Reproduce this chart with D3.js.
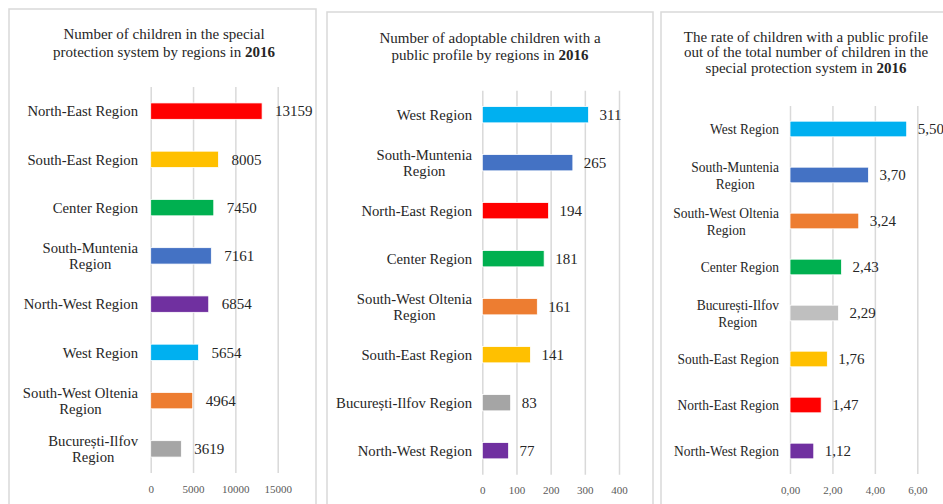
<!DOCTYPE html>
<html>
<head>
<meta charset="utf-8">
<script src="https://cdn.jsdelivr.net/npm/d3@7"></script>
<style>
  html, body { margin: 0; padding: 0; background: #fff; }
  svg { display: block; }
  text { font-family: "Liberation Serif", "DejaVu Serif", serif; }
</style>
</head>
<body>
<svg id="chart" width="943" height="504"></svg>
<script>
// ---------- DATA ----------
const p1Categories = ["North-East Region", "South-East Region", "Center Region", "South-Muntenia\nRegion", "North-West Region", "West Region", "South-West Oltenia\nRegion", "București-Ilfov\nRegion"];
const p1Values = [13159, 8005, 7450, 7161, 6854, 5654, 4964, 3619];
const p1Ticks = [0, 5000, 10000, 15000];
const p1Title = ["Number of children in the special", "protection system by regions in |2016"];

const p2Categories = ["West Region", "South-Muntenia\nRegion", "North-East Region", "Center Region", "South-West Oltenia\nRegion", "South-East Region", "București-Ilfov Region", "North-West Region"];
const p2Values = [311, 265, 194, 181, 161, 141, 83, 77];
const p2Ticks = [0, 100, 200, 300, 400];
const p2Title = ["Number of adoptable children with a", "public profile by regions in |2016"];

const p3Categories = ["West Region", "South-Muntenia\nRegion", "South-West Oltenia\nRegion", "Center Region", "București-Ilfov\nRegion", "South-East Region", "North-East Region", "North-West Region"];
const p3Values = [5.50, 3.70, 3.24, 2.43, 2.29, 1.76, 1.47, 1.12];
const p3Ticks = [0, 2, 4, 6];
const p3Title = ["The rate of children with a public profile", "out of the total number of children in the", "special protection system in |2016"];

const regionNames = ["North-East", "South-East", "Center", "South-Muntenia", "North-West", "West", "South-West Oltenia", "București-Ilfov"];
const regionColors = ["#FF0000", "#FFC000", "#00B050", "#4472C4", "#7030A0", "#00B0F0", "#ED7D31", "#A5A5A5"];

// ---------- LAYOUT ----------
const svg = d3.select("#chart");
const commaFmt = v => d3.format(".2f")(v).replace(".", ",");

const panels = [
  { cats: p1Categories, vals: p1Values, ticks: p1Ticks, title: p1Title,
    box: [9, 9, 316, 520], titleX: 164, titleY: 39, titleLH: 18,
    x0: 150.7, x1: 277.7, dMax: 15000, y0: 87, y1: 473, labelX: 138,
    catScale: 0.98, catLH: 16.5, fmt: d => String(d), tickFmt: d => String(d), valOff: 13, grayFix: null },
  { cats: p2Categories, vals: p2Values, ticks: p2Ticks, title: p2Title,
    box: [327, 12, 653, 520], titleX: 490, titleY: 43, titleLH: 17,
    x0: 482.3, x1: 619, dMax: 400, y0: 90.7, y1: 474.7, labelX: 472,
    catScale: 0.98, catLH: 16.5, fmt: d => String(d), tickFmt: d => String(d), valOff: 11, grayFix: null },
  { cats: p3Categories, vals: p3Values, ticks: p3Ticks, title: p3Title,
    box: [661, 12, 990, 520], titleX: 806, titleY: 42, titleLH: 15.3,
    x0: 790, x1: 917.3, dMax: 6, y0: 106, y1: 474, labelX: 779,
    catScale: 0.9, catLH: 16.5, fmt: commaFmt, tickFmt: commaFmt, valOff: 11, grayFix: "#BFBFBF" }
];

function colorFor(cat, grayFix) {
  const name = cat.replace(/\n/g, " ").replace(/ Region$/, "");
  const i = regionNames.indexOf(name);
  let c = regionColors[i];
  if (grayFix && name === "București-Ilfov") c = grayFix;
  return c;
}

panels.forEach(p => {
  const g = svg.append("g");
  // panel border
  g.append("rect")
    .attr("x", p.box[0]).attr("y", p.box[1])
    .attr("width", p.box[2] - p.box[0]).attr("height", p.box[3] - p.box[1])
    .attr("fill", "#fff").attr("stroke", "#D9D9D9").attr("stroke-width", 1.5);

  // title
  const t = g.append("text").attr("text-anchor", "middle")
    .attr("font-size", 15).attr("fill", "#262626");
  p.title.forEach((line, i) => {
    const parts = line.split("|");
    t.append("tspan").attr("x", p.titleX).attr("y", p.titleY + i * p.titleLH).text(parts[0]);
    if (parts.length > 1) {
      t.append("tspan").attr("font-weight", "bold").text(parts[1]);
    }
  });

  const x = d3.scaleLinear().domain([0, p.dMax]).range([p.x0, p.x1]);
  const y = d3.scaleBand().domain(p.cats).range([p.y0, p.y1])
    .paddingInner(0.66).paddingOuter(0.33);

  // grid + ticks
  const axis = d3.axisBottom(x).tickValues(p.ticks).tickFormat(p.tickFmt)
    .tickSizeInner(-(p.y1 - p.y0)).tickSizeOuter(0).tickPadding(12);
  const ax = g.append("g").attr("transform", `translate(0,${p.y1})`).call(axis);
  ax.select(".domain").remove();
  ax.selectAll(".tick line").attr("stroke", "#D9D9D9").attr("stroke-width", 1.5);
  ax.selectAll(".tick text").attr("font-size", 11).attr("fill", "#595959")
    .attr("font-family", "Liberation Serif, serif");

  // bars
  g.selectAll("rect.bar").data(p.cats).join("rect").attr("class", "bar")
    .attr("x", x(0)).attr("y", d => y(d))
    .attr("width", (d, i) => x(p.vals[i]) - x(0))
    .attr("height", y.bandwidth())
    .attr("fill", d => colorFor(d, p.grayFix))
    .attr("stroke", "#fff").attr("stroke-width", 0.8);

  // value labels
  g.selectAll("text.val").data(p.cats).join("text").attr("class", "val")
    .attr("x", (d, i) => x(p.vals[i]) + p.valOff)
    .attr("y", d => y(d) + y.bandwidth() / 2)
    .attr("dy", "0.35em").attr("font-size", 15).attr("fill", "#262626")
    .text((d, i) => p.fmt(p.vals[i]));

  // category labels (condensed serif, lines centred, block right-aligned)
  p.cats.forEach(c => {
    const lines = c.split("\n");
    const cy = y(c) + y.bandwidth() / 2;
    const tg = g.append("g").attr("transform", `translate(${p.labelX},${cy}) scale(${p.catScale},1)`);
    const tmp = tg.append("text").attr("font-size", 15);
    let w = 0;
    lines.forEach(l => { tmp.text(l); w = Math.max(w, tmp.node().getComputedTextLength()); });
    tmp.remove();
    lines.forEach((l, i) => {
      tg.append("text").attr("font-size", 15).attr("fill", "#262626")
        .attr("text-anchor", "middle")
        .attr("x", -w / 2)
        .attr("y", (i - (lines.length - 1) / 2) * p.catLH)
        .attr("dy", "0.35em").text(l);
    });
  });
});
</script>
</body>
</html>
